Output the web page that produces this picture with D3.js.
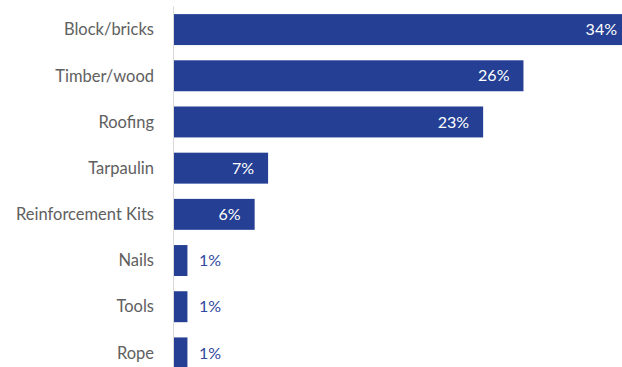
<!DOCTYPE html>
<html>
<head>
<meta charset="utf-8">
<script src="https://cdn.jsdelivr.net/npm/d3@7"></script>
<style>
  html, body { margin: 0; padding: 0; background: #fff; overflow: hidden; }
  svg { display: block; }
</style>
</head>
<body>
<svg id="chart" width="622" height="367"></svg>
<script>
// Share of respondents by building material
const categories = ["Block/bricks", "Timber/wood", "Roofing", "Tarpaulin", "Reinforcement Kits", "Nails", "Tools", "Rope"];
const values = [34, 26, 23, 7, 6, 1, 1, 1];

const svg = d3.select("#chart");
const fontFamily = "Lato, 'Open Sans', sans-serif";
const barColor = "#243f94";

const x0 = 174;
const x = d3.scaleLinear().domain([0, 34]).range([x0, x0 + 457]);
const y = d3.scaleBand().domain(categories).range([6.5, 376]).paddingInner(0.33).paddingOuter(0.165);

// bars
svg.append("g").selectAll("rect")
  .data(categories)
  .join("rect")
  .attr("x", x(0))
  .attr("y", d => y(d))
  .attr("width", (d, i) => x(values[i]) - x(0))
  .attr("height", y.bandwidth())
  .attr("fill", barColor);

// category axis line
svg.append("line")
  .attr("x1", 173.5).attr("x2", 173.5)
  .attr("y1", 6.5).attr("y2", 367)
  .attr("stroke", "#d9d9d9").attr("stroke-width", 1);

// category labels
svg.append("g").selectAll("text")
  .data(categories)
  .join("text")
  .attr("x", 154)
  .attr("y", d => y(d) + y.bandwidth() / 2)
  .attr("dy", "0.35em")
  .attr("text-anchor", "end")
  .attr("font-family", fontFamily)
  .attr("font-size", 16.5)
  .attr("fill", "#606060")
  .text(d => d);

// value labels: inside the bar when it is wide enough, otherwise just past its end
svg.append("g").selectAll("text")
  .data(categories)
  .join("text")
  .each(function (d, i) {
    const v = values[i];
    const inside = v >= 5;
    d3.select(this)
      .attr("x", inside ? x(v) - 14 : x(v) + 11.5)
      .attr("text-anchor", inside ? "end" : "start")
      .attr("fill", inside ? "#ffffff" : "#2f48a0");
  })
  .attr("y", d => y(d) + y.bandwidth() / 2)
  .attr("dy", "0.35em")
  .attr("font-family", fontFamily)
  .attr("font-size", 16)
  .text((d, i) => values[i] + "%");
</script>
</body>
</html>
